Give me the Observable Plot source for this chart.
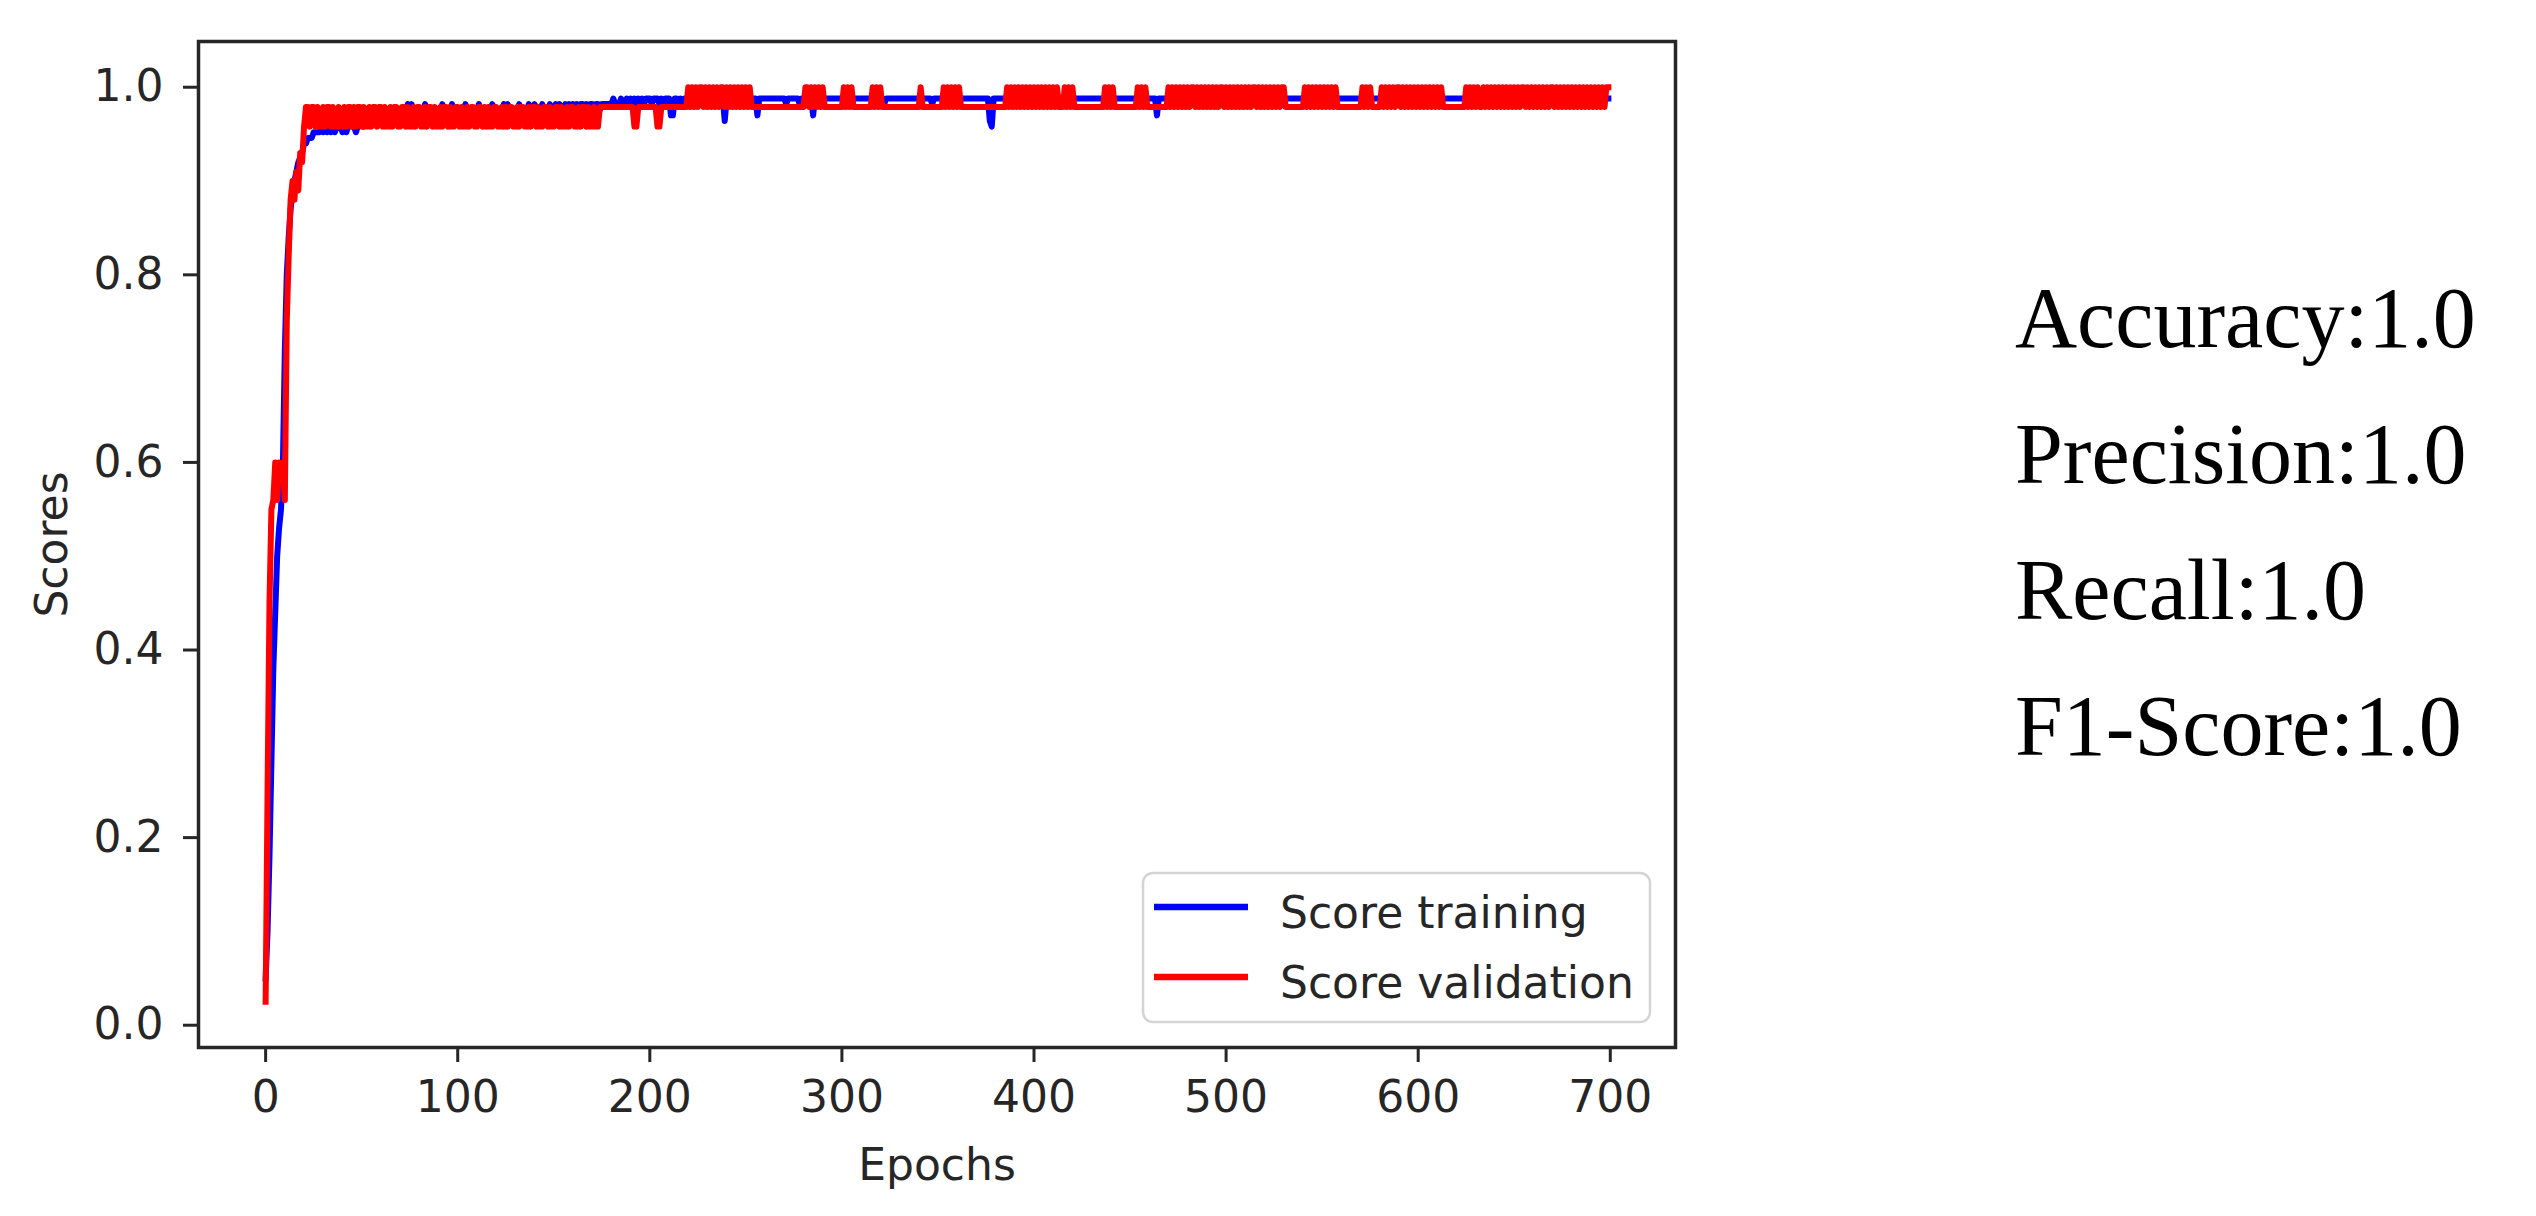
<!DOCTYPE html>
<html>
<head>
<meta charset="utf-8">
<script src="https://cdn.jsdelivr.net/npm/d3@7"></script>
<script src="https://cdn.jsdelivr.net/npm/@observablehq/plot@0.6"></script>
<style>
  html, body { margin: 0; padding: 0; background: #fff; }
  #wrap { position: relative; width: 2536px; height: 1216px; overflow: hidden; background: #fff; }
  #wrap > svg { position: absolute; left: 0; top: 0; }
</style>
</head>
<body>
<div id="wrap"></div>
<script>
// ---------------- data ----------------
const seriesNames = ["Score training", "Score validation"];
const seriesColors = ["#0000ff", "#ff0000"];

// epochs 0-19, explicit values
const trainEarly = [0.05, 0.10, 0.18, 0.28, 0.38, 0.44, 0.50, 0.53, 0.55, 0.60,
                    0.72, 0.80, 0.84, 0.87, 0.89, 0.90, 0.91, 0.92, 0.925, 0.93];
const valEarly   = [0.025, 0.25, 0.45, 0.55, 0.56, 0.60, 0.56, 0.60, 0.58, 0.60,
                    0.56, 0.75, 0.82, 0.88, 0.90, 0.88, 0.91, 0.89, 0.93, 0.92];

// epochs 20-699: one code per epoch, each code is an index into the level list
const trainLevels = [0.940, 0.946, 0.952, 0.958, 0.964, 0.970, 0.976, 0.982, 0.988, 0.994];
const valLevels = [0.958, 0.979, 1.0];

const trainCodes = [
  "0011122223","2323232333","2323343234","4345454545","5656565465","6566757656",
  "6567656565","6576566756","5656765665","6756566576","6566757665","6576656765",
  "7656766576","6767667676","7676776767","7677677777","7877787787","8787878788",
  "8788878788","8558878788","8888788888","8878888884","8888788888","8887885888",
  "8888888888","8788888878","8888858888","8888888888","8888788888","8888888888",
  "8878888888","8888888888","8888888788","8888888888","8888888888","8888888438",
  "8888888888","8888888888","8888888888","8888888888","8888888888","8888888888",
  "8888888888","8888888888","8888588888","8888888888","8888888888","8888888888",
  "8888888888","8888888888","8888888888","8888888888","8888888888","8888888888",
  "8888888888","8888888888","8888888888","8888888888","8888888888","8888888888",
  "8888888888","8888888888","8888888888","8888888888","8888888888","8888888888",
  "8888888888","8888888888"
].join("");

const valCodes = [
  "0110110100","1011010010","0101101011","0100101101","1010010110","0110100101",
  "1001011010","0101101001","1010010110","0110101001","1001010110","0101100101",
  "1010011010","0110100101","1001011010","0100111111","1111111111","1100111111",
  "1111001111","1111111111","2121212212","1212121221","2121212121","2121111111",
  "1111111111","1111111111","1221212121","2111111111","1212121111","1111112121",
  "2111111111","1111111111","1211111111","1112121212","1211111111","1111111111",
  "1111112121","2121212121","2121212121","2121112121","2111111111","1111111212",
  "1211111111","1111212121","1111111111","2121212121","2122121212","1212121221",
  "2121212121","2121221212","1212121212","2111111111","1212121212","1212121211",
  "1111111111","1212121111","1212121212","2121212121","2121212121","2121111111",
  "1111121212","1211212121","2121212121","2121221212","1212121212","2121212121",
  "2121212121","2121212122"
].join("");

const xTicks = [0, 100, 200, 300, 400, 500, 600, 700];
const yTicks = [0.0, 0.2, 0.4, 0.6, 0.8, 1.0];

const metricLabels = ["Accuracy", "Precision", "Recall", "F1-Score"];
const metricValues = [1.0, 1.0, 1.0, 1.0];

// ---------------- build tables ----------------
const trainValues = trainEarly.concat(Array.from(trainCodes, c => trainLevels[+c]));
const valValues = valEarly.concat(Array.from(valCodes, c => valLevels[+c]));
const training = trainValues.map((v, i) => ({epoch: i, score: v}));
const validation = valValues.map((v, i) => ({epoch: i, score: v}));

// matplotlib-style 5% margins around data extent
const allEpochs = training.map(d => d.epoch);
const allScores = trainValues.concat(valValues);
const [x0, x1] = d3.extent(allEpochs);
const [y0, y1] = d3.extent(allScores);
const xm = (x1 - x0) * 0.05, ym = (y1 - y0) * 0.05;

const ink = "#262626";
const font = "DejaVu Sans";

const chart = Plot.plot({
  width: 1720,
  height: 1216,
  marginLeft: 198,
  marginRight: 45,
  marginTop: 41,
  marginBottom: 169,
  style: {fontFamily: font, fontSize: "44px", color: ink, background: "#fff", overflow: "visible"},
  x: {domain: [x0 - xm, x1 + xm]},
  y: {domain: [y0 - ym, y1 + ym]},
  marks: [
    Plot.lineY(training, {x: "epoch", y: "score", stroke: seriesColors[0], strokeWidth: 6, strokeLinejoin: "round", strokeLinecap: "square"}),
    Plot.lineY(validation, {x: "epoch", y: "score", stroke: seriesColors[1], strokeWidth: 6, strokeLinejoin: "round", strokeLinecap: "square"}),
    Plot.frame({stroke: ink, strokeWidth: 3.5}),
    Plot.axisX({ticks: xTicks, tickSize: 15, tickPadding: 18, strokeWidth: 3, tickFormat: d => String(d), label: null, fontSize: 44, fontFamily: font}),
    Plot.axisY({ticks: yTicks, tickSize: 15, tickPadding: 20, strokeWidth: 3, tickFormat: d3.format(".1f"), label: null, fontSize: 44, fontFamily: font}),
    Plot.text(["Epochs"], {frameAnchor: "bottom", dy: 118, lineAnchor: "middle", textAnchor: "middle", text: d => d, fontSize: 44, fontFamily: font}),
    Plot.text(["Scores"], {frameAnchor: "left", dx: -146, rotate: -90, lineAnchor: "middle", textAnchor: "middle", text: d => d, fontSize: 44, fontFamily: font})
  ]
});

const wrap = document.getElementById("wrap");
wrap.appendChild(chart);

// ---------------- legend (inside the axes, lower right) + metrics text ----------------
const overlay = d3.select(wrap).append("svg")
  .attr("width", 2536).attr("height", 1216)
  .style("pointer-events", "none");

const lg = overlay.append("g");
lg.append("rect")
  .attr("x", 1143).attr("y", 873).attr("width", 507).attr("height", 149).attr("rx", 10)
  .attr("fill", "#fff").attr("fill-opacity", 0.8)
  .attr("stroke", "#d4d4d4").attr("stroke-width", 2.5);
seriesNames.forEach((name, i) => {
  const cy = 907 + i * 70;
  lg.append("line")
    .attr("x1", 1154).attr("x2", 1248).attr("y1", cy).attr("y2", cy)
    .attr("stroke", seriesColors[i]).attr("stroke-width", 6.5);
  lg.append("text")
    .attr("x", 1280).attr("y", cy + 21)
    .attr("font-family", font).attr("font-size", 44).attr("fill", ink)
    .text(name);
});

metricLabels.forEach((m, i) => {
  overlay.append("text")
    .attr("x", 2015).attr("y", 347 + i * 136)
    .attr("font-family", "Liberation Serif").attr("font-size", 86).attr("fill", "#000")
    .text(`${m}:${metricValues[i].toFixed(1)}`);
});
</script>
</body>
</html>
